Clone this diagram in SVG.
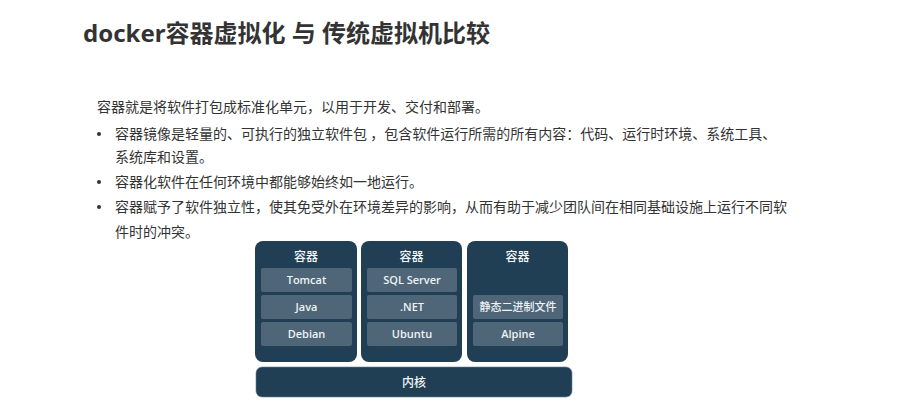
<svg xmlns="http://www.w3.org/2000/svg" width="920" height="419" viewBox="0 0 920 419">
<style>
.title{font-family:"Noto Sans","Noto Sans CJK SC",sans-serif;font-size:24px;font-weight:700;fill:#333}
.body{font-family:"Noto Sans CJK SC","Noto Sans",sans-serif;font-size:14px;fill:#333}
.box{fill:#203f54}
.row{fill:#4e6677}
.hd{font-family:"Noto Sans CJK SC","Noto Sans",sans-serif;font-size:12px;font-weight:500;fill:#f2f5f7;text-anchor:middle}
.lb{font-family:"Open Sans","Noto Sans CJK SC",sans-serif;font-size:11px;font-weight:600;fill:#eef2f5;text-anchor:middle}
.cj{font-family:"Noto Sans CJK SC",sans-serif;font-size:11px;font-weight:500;fill:#eef2f5;text-anchor:middle}
.dot{fill:#333}
</style>
<rect width="920" height="419" fill="#fff"/>
<text class="title" x="83" y="42">docker容器虚拟化 与 传统虚拟机比较</text>
<g id="text">
<text class="body" x="97" y="112">容器就是将软件打包成标准化单元，以用于开发、交付和部署。</text>
<circle class="dot" cx="99" cy="134" r="2"/>
<text class="body" x="115" y="139">容器镜像是轻量的、可执行的独立软件包 ，包含软件运行所需的所有内容：代码、运行时环境、系统工具、</text>
<text class="body" x="115" y="162">系统库和设置。</text>
<circle class="dot" cx="99" cy="182" r="2"/>
<text class="body" x="115" y="187">容器化软件在任何环境中都能够始终如一地运行。</text>
<circle class="dot" cx="99" cy="207" r="2"/>
<text class="body" x="115" y="212">容器赋予了软件独立性，使其免受外在环境差异的影响，从而有助于减少团队间在相同基础设施上运行不同软</text>
<text class="body" x="115" y="237">件时的冲突。</text>
</g>
<g id="c1">
<rect class="box" x="255" y="241" width="102" height="121" rx="8"/>
<text class="hd" x="306" y="261">容器</text>
<rect class="row" x="261" y="268" width="91" height="24" rx="2"/>
<text class="lb" x="306.5" y="284">Tomcat</text>
<rect class="row" x="261" y="295" width="91" height="24" rx="2"/>
<text class="lb" x="306.5" y="311">Java</text>
<rect class="row" x="261" y="322" width="91" height="24" rx="2"/>
<text class="lb" x="306.5" y="338">Debian</text>
</g>
<g id="c2">
<rect class="box" x="361" y="241" width="101" height="121" rx="8"/>
<text class="hd" x="411.5" y="261">容器</text>
<rect class="row" x="367" y="268" width="90" height="24" rx="2"/>
<text class="lb" x="412" y="284">SQL Server</text>
<rect class="row" x="367" y="295" width="90" height="24" rx="2"/>
<text class="lb" x="412" y="311">.NET</text>
<rect class="row" x="367" y="322" width="90" height="24" rx="2"/>
<text class="lb" x="412" y="338">Ubuntu</text>
</g>
<g id="c3">
<rect class="box" x="467" y="241" width="101" height="121" rx="8"/>
<text class="hd" x="517.5" y="261">容器</text>
<rect class="row" x="473" y="295" width="90" height="24" rx="2"/>
<text class="cj" x="518" y="311">静态二进制文件</text>
<rect class="row" x="473" y="322" width="90" height="24" rx="2"/>
<text class="lb" x="518" y="338">Alpine</text>
</g>
<g id="kernel">
<rect class="box" x="256" y="367" width="316" height="30" rx="6" stroke="#6a8090" stroke-width="0.6"/>
<text class="hd" x="414" y="387" font-size="13">内核</text>
</g>
<g id="connectors"/>
</svg>
